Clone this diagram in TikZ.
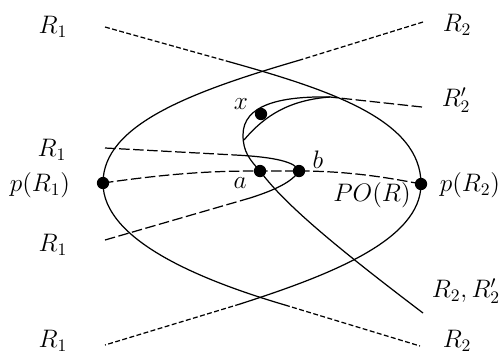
\documentclass[tikz,border=0pt]{standalone}
\usepackage{amsmath}
\usepackage{tikz}
\tikzset{
  ray/.style={
    line width=0.7pt,
    dash pattern=on 2.8pt off 1.4pt
  },
  long ray/.style={
    line width=0.7pt,
    dash pattern=on 6pt off 2pt
  },
  arc line/.style={
    line width=0.7pt
  },
  point dot/.style={
    circle,
    fill=black,
    inner sep=0pt,
    minimum size=7pt
  },
  ray label/.style={
    font=\Large
  }
}

\begin{document}
\begin{tikzpicture}[x=0.02cm, y=-0.02cm]
    % 1 unit = 1 pixel of the reference, y pointing down
    \useasboundingbox (0,0) rectangle (502,356);

    % points
    \node[point dot] (pR1) at (103,183) {};
    \node[point dot] (pR2) at (421,184) {};
    \node[point dot] (a) at (260,171) {};
    \node[point dot] (b) at (299,171) {};
    \node[point dot] (x) at (261,114) {};

    % labels
    \node[ray label] (lR1a) at (53,27) {$R_1$};
    \node[ray label] (lR1b) at (52,150) {$R_1$};
    \node[ray label] (lpR1) at (40,185) {$p(R_1)$};
    \node[ray label] (lR1c) at (53,245) {$R_1$};
    \node[ray label] (lR1d) at (53,341) {$R_1$};
    \node[ray label] (lR2a) at (457,25) {$R_2$};
    \node[ray label] (lR2p) at (456,100) {$R_2'$};
    \node[ray label] (lpR2) at (470,185) {$p(R_2)$};
    \node[ray label] (lPO) at (372,195) {$PO(R)$};
    \node[ray label] (lR2R2p) at (466,291) {$R_2, R_2'$};
    \node[ray label] (lR2d) at (457,341) {$R_2$};
    \node[ray label] (lx) at (241,104) {$x$};
    \node[ray label] (la) at (240,183) {$a$};
    \node[ray label] (lb) at (318,160) {$b$};

    % ends of the rays
    \coordinate (eR1a) at (105,27);
    \coordinate (eR1b) at (105,148);
    \coordinate (eR1c) at (105,240);
    \coordinate (eR1d) at (105,345);
    \coordinate (eR2a) at (423,22);
    \coordinate (eR2p) at (422,107);
    \coordinate (eR2R2p) at (423,313);
    \coordinate (eR2d) at (420,346);
    \coordinate (sA) at (230,62);
    \coordinate (tA) at (240,304);
    \coordinate (sB) at (300,60);
    \coordinate (tB) at (285,305);
    \coordinate (sC) at (235,155);
    \coordinate (tC) at (250,198);
    \coordinate (sD) at (330,97);
    \coordinate (jx) at (244,140);

    % big curve round p(R2)
    \draw[ray] (eR1a) -- (sA);
    \draw[arc line] (sA) .. controls (330,90) and (421,120) .. (pR2.center)
      .. controls (421,240) and (330,275) .. (tA);
    \draw[ray] (tA) -- (eR1d);

    % big curve round p(R1)
    \draw[ray] (eR2a) -- (sB);
    \draw[arc line] (sB) .. controls (190,92) and (103,125) .. (pR1.center)
      .. controls (103,240) and (200,280) .. (tB);
    \draw[ray] (tB) -- (eR2d);

    % p(R1) to p(R2)
    \draw[long ray] (pR1.center) .. controls (180,172) and (220,171) .. (a.center)
      -- (b.center) .. controls (350,171) and (390,178) .. (pR2.center);

    % curve turning at b
    \draw[long ray] (eR1b) -- (sC);
    \draw[arc line] (sC) .. controls (275,157) and (296,162) .. (b.center)
      .. controls (292,182) and (275,190) .. (tC);
    \draw[long ray] (tC) -- (eR1c);

    % curve round x
    \draw[long ray] (eR2p) -- (sD);
    \draw[arc line] (sD) .. controls (280,96) and (243,105) .. (243,135)
      .. controls (243,152) and (250,160) .. (a.center)
      .. controls (285,205) and (340,250) .. (eR2R2p);
    \draw[arc line] (jx) .. controls (265,115) and (290,100) .. (sD);

\end{tikzpicture}
\end{document}
